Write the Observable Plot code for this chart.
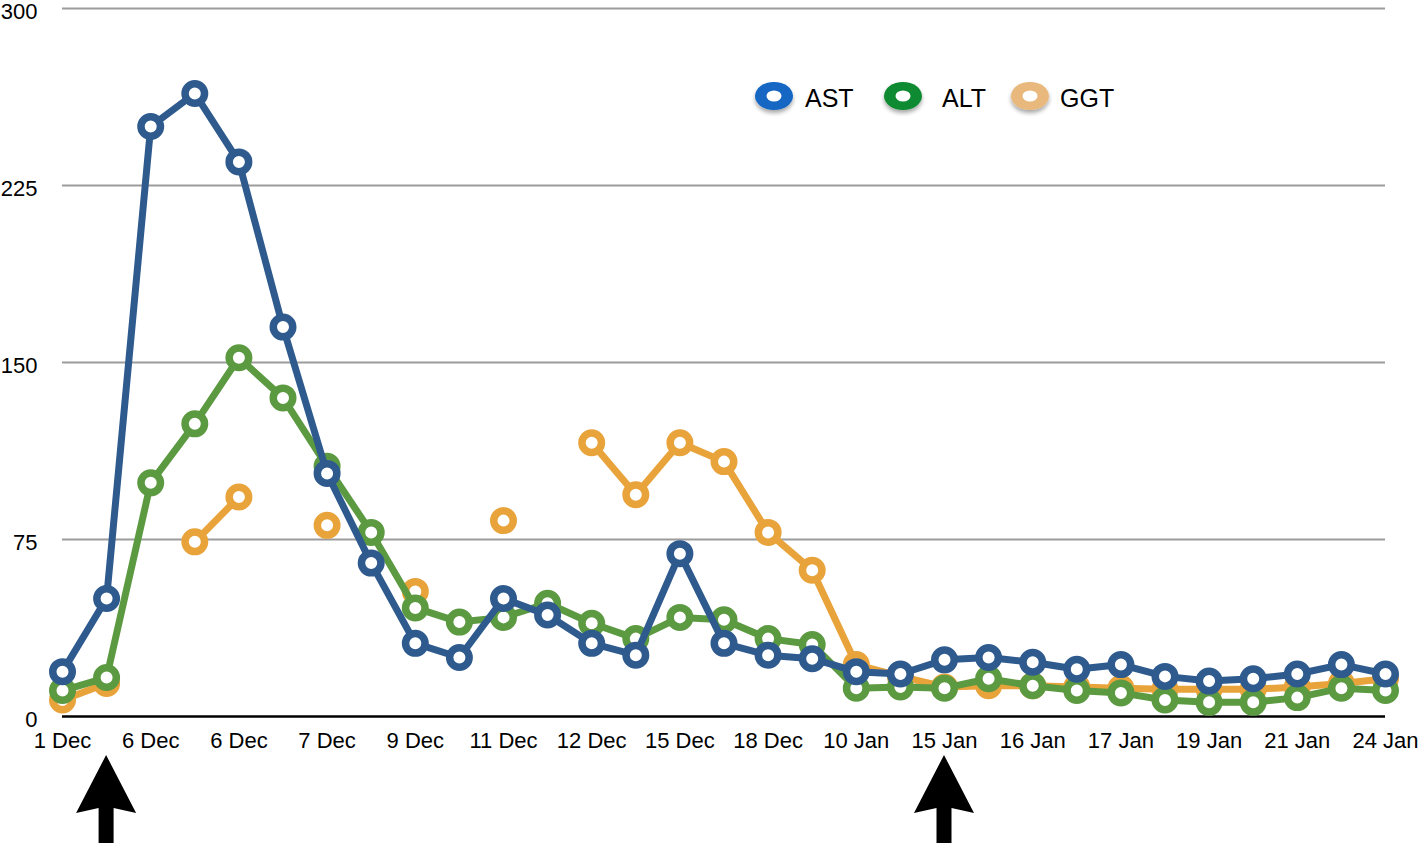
<!DOCTYPE html>
<html><head><meta charset="utf-8">
<script src="https://cdn.jsdelivr.net/npm/d3@7"></script>
<script src="https://cdn.jsdelivr.net/npm/@observablehq/plot@0.6"></script>
<style>
body{margin:0;background:#fff;}
#wrap{position:relative;width:1418px;height:843px;overflow:hidden;font-family:"Liberation Sans",Arial,Helvetica,sans-serif;}
#legend{position:absolute;left:0;top:0;pointer-events:none;}
</style></head><body><div id="wrap"></div>
<script>
// Tick labels (every other measurement is labelled)
const xLabels = ["1 Dec","6 Dec","6 Dec","7 Dec","9 Dec","11 Dec","12 Dec","15 Dec","18 Dec","10 Jan","15 Jan","16 Jan","17 Jan","19 Jan","21 Jan","24 Jan"];
const yTicks = [0, 75, 150, 225, 300];
// Series values, one per measurement (31 measurements)
const ast = [19, 50, 250, 264, 235, 165, 103, 65, 31, 25, 50, 43, 31, 26, 69, 31, 26, 24.5, 19, 18, 24, 25, 23, 20, 22, 17, 15, 16, 18, 22, 18];
const alt = [11, 16.5, 99, 124, 152, 135, 106, 78, 46, 40, 42, 48, 39.5, 33, 42, 41, 33, 30.5, 12, 12.5, 12, 16, 13, 11, 10, 7, 6, 6, 8, 12, 11];
const ggt = [7, 14, null, 74, 93, null, 81, null, 53, null, 83, null, 116, 94, 116, 108, 78, 62, 22, 17, 12.5, 13, 13, 12.5, 12, 11.5, 11.5, 11.5, 12.5, 14, 16];
const arrowAt = [1, 20];
const seriesNames = ["AST", "ALT", "GGT"];
const seriesValues = {AST: ast, ALT: alt, GGT: ggt};
const lineColors = {AST: "#2e5a8e", ALT: "#5c9a41", GGT: "#e9a33b"};
const legendColors = {AST: "#1266c4", ALT: "#0d8a30", GGT: "#e8b87b"};

const rows = {};
for (const s of seriesNames) rows[s] = seriesValues[s].map((v, i) => ({i, v, s}));

const drawOrder = ["GGT", "ALT", "AST"];
const seriesMarks = drawOrder.flatMap(s => [
  Plot.line(rows[s], {x: "i", y: "v", stroke: lineColors[s], strokeWidth: 7, strokeLinejoin: "round", strokeLinecap: "round"}),
  Plot.dot(rows[s], {x: "i", y: "v", r: 9.75, stroke: lineColors[s], strokeWidth: 7.5, fill: "white"})
]);

function arrowMark(index, scales, values, dimensions) {
  const g = d3.create("svg:g");
  const y0 = dimensions.height - dimensions.marginBottom;
  for (const a of arrowAt) {
    const x = scales.x(a);
    const tip = y0 + 39, base = y0 + 97, notch = y0 + 92, bottom = y0 + 140;
    g.append("path")
      .attr("d", `M${x},${tip}L${x + 30},${base}L${x + 7.5},${notch}L${x + 7.5},${bottom}L${x - 7.5},${bottom}L${x - 7.5},${notch}L${x - 30},${base}Z`)
      .attr("fill", "#000");
  }
  return g.node();
}

const chart = Plot.plot({
  width: 1418,
  height: 843,
  marginLeft: 62,
  marginRight: 33,
  marginTop: 8,
  marginBottom: 127,
  style: {fontFamily: '"Liberation Sans", Arial, Helvetica, sans-serif', fontSize: "22px", color: "#000", background: "white", overflow: "visible"},
  x: {domain: [0, 30]},
  y: {domain: [0, 300]},
  marks: [
    Plot.gridY({ticks: yTicks.filter(t => t > 0), stroke: "#9c9c9c", strokeOpacity: 1, strokeWidth: 2}),
    Plot.ruleY([0], {stroke: "#000", strokeWidth: 2.5}),
    Plot.axisY({ticks: yTicks, tickSize: 0, tickPadding: 25, fontSize: 22, label: null, dy: 3}),
    Plot.axisX({ticks: xLabels.map((_, k) => 2 * k), tickFormat: i => xLabels[i / 2], tickSize: 0, tickPadding: 16, fontSize: 22, label: null}),
    ...seriesMarks,
    arrowMark
  ]
});
const wrap = document.getElementById("wrap");
wrap.appendChild(chart);

// Legend (inside plot area, top right)
const legendPos = [{s: "AST", cx: 774, tx: 805}, {s: "ALT", cx: 903, tx: 942}, {s: "GGT", cx: 1030, tx: 1060}];
const lg = d3.create("svg").attr("id", "legend").attr("width", 1418).attr("height", 843);
const defs = lg.append("defs");
const f = defs.append("filter").attr("id", "sh").attr("x", "-50%").attr("y", "-50%").attr("width", "200%").attr("height", "200%");
f.append("feDropShadow").attr("dx", 0).attr("dy", 3).attr("stdDeviation", 2).attr("flood-color", "#000").attr("flood-opacity", 0.35);
for (const p of legendPos) {
  const g = lg.append("g");
  g.append("ellipse").attr("cx", p.cx).attr("cy", 96).attr("rx", 19).attr("ry", 14).attr("fill", legendColors[p.s]).attr("filter", "url(#sh)");
  g.append("ellipse").attr("cx", p.cx).attr("cy", 96).attr("rx", 7.5).attr("ry", 5.5).attr("fill", "#fff");
  g.append("text").attr("x", p.tx).attr("y", 107).attr("font-size", 25).attr("fill", "#000")
    .attr("font-family", '"Liberation Sans", Arial, Helvetica, sans-serif').text(p.s);
}
wrap.appendChild(lg.node());
</script>
</body></html>
